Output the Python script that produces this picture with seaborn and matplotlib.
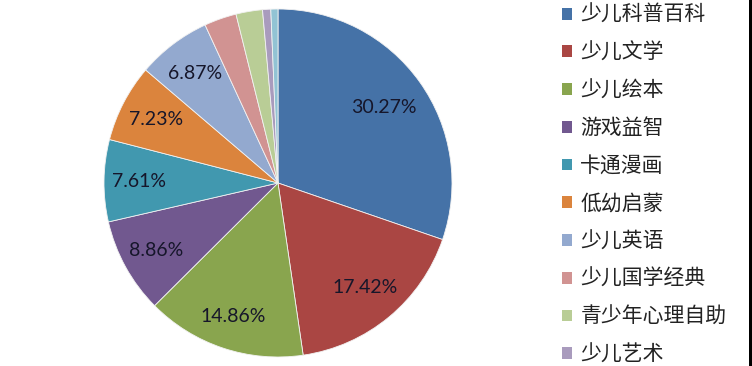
import matplotlib
matplotlib.use("Agg")
import numpy as np
import matplotlib.pyplot as plt
from matplotlib.patches import Patch, Rectangle
import seaborn as sns

categories = ["少儿科普百科", "少儿文学", "少儿绘本", "游戏益智", "卡通漫画",
              "低幼启蒙", "少儿英语", "少儿国学经典", "青少年心理自助", "少儿艺术", "其他"]
shares = [30.27, 17.42, 14.86, 8.86, 7.61, 7.23, 6.87, 3.00, 2.46, 0.76, 0.66]
colors_hex = ["#4572A7", "#AA4643", "#89A54E", "#71588F", "#4198AF", "#DB843D",
              "#93A9CF", "#D19392", "#B9CD96", "#A99BBD", "#92C3D4"]
legend_count = 10
# radial placement of percentage labels (fraction of radius), per slice
label_dist = [0.75, 0.78, 0.81, 0.80, 0.80, 0.79, 0.79, 0.78, 0.78, 0.78, 0.78]

sns.set_theme(style="white")
plt.rcParams['font.family'] = ['Noto Sans CJK SC', 'DejaVu Sans']
palette = sns.color_palette(colors_hex)

fig = plt.figure(figsize=(7.52, 3.66), dpi=100)
fig.patch.set_facecolor("white")
ax = fig.add_axes([104/752, 9/366, 348/752, 348/366])

def fmt(p):
    return f"{p:.2f}%" if p >= 5 else ""

wedges, texts, autotexts = ax.pie(
    shares, colors=palette, startangle=90, counterclock=False,
    autopct=fmt, pctdistance=0.78, radius=1.0,
    wedgeprops=dict(edgecolor="#f2f2f2", linewidth=0.6),
    textprops=dict(family="Lato", fontsize=14, color="#16162a"))
for w, t, d in zip(wedges, autotexts, label_dist):
    ang = np.deg2rad((w.theta1 + w.theta2) / 2)
    t.set_position((d * np.cos(ang), d * np.sin(ang)))
ax.set_xlim(-1.0, 1.0)
ax.set_ylim(-1.0, 1.0)
ax.set_aspect("equal")

handles = [Patch(facecolor=palette[i], edgecolor="none") for i in range(legend_count)]
leg = fig.legend(handles, categories[:legend_count], loc="upper left",
                 bbox_to_anchor=(562/752, 1 - 4/366), frameon=False,
                 prop=dict(family="Noto Sans CJK SC", size=15, weight="light"),
                 handlelength=0.5, handleheight=0.5, handletextpad=0.38,
                 labelspacing=0.755, borderaxespad=0, borderpad=0)
for t in leg.get_texts():
    t.set_color("#222222")

fig.add_artist(Rectangle((749/752, 0), 3/752, 1, transform=fig.transFigure,
                         facecolor="black", edgecolor="none"))

fig.savefig("out.png", dpi=100, facecolor="white")
